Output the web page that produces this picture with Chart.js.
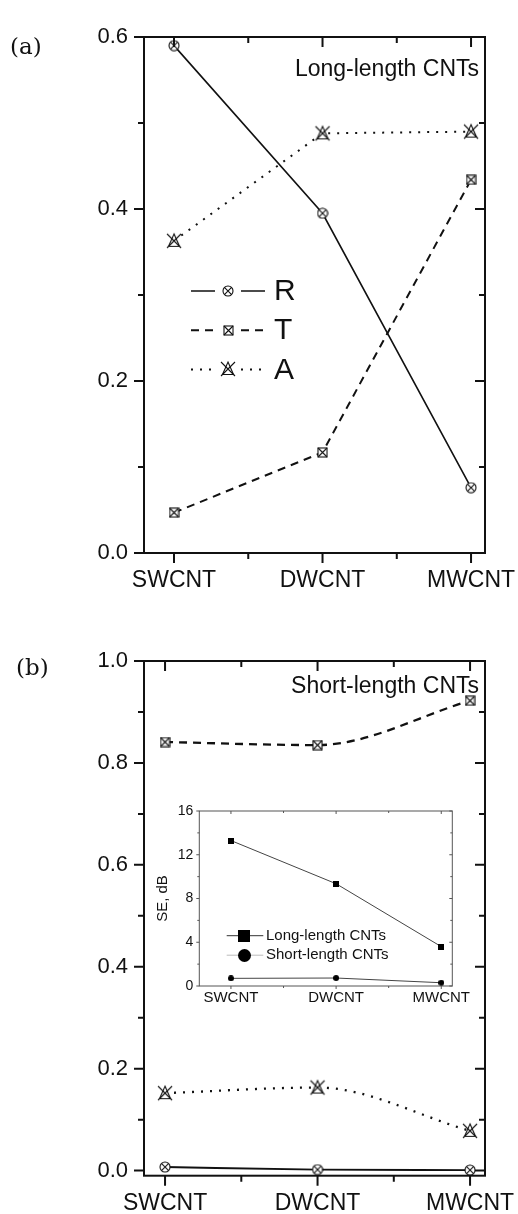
<!DOCTYPE html>
<html>
<head>
<meta charset="utf-8">
<script src="https://cdn.jsdelivr.net/npm/chart.js@4.4.1/dist/chart.umd.min.js"></script>
<style>
  html,body{margin:0;padding:0;background:#fff;overflow:hidden;}
  #wrap{position:relative;width:518px;height:1214px;overflow:hidden;background:#fff;}
  canvas{position:absolute;}
  .txt{position:absolute;white-space:nowrap;line-height:1;color:#111;}
  .sans{font-family:"Liberation Sans",Arial,sans-serif;}
  .serif{font-family:"DejaVu Serif","Liberation Serif",serif;}
</style>
</head>
<body>
<div id="wrap">
  <canvas id="ca" width="580" height="600" style="left:0;top:0"></canvas>
  <canvas id="cb" width="580" height="614" style="left:0;top:600px"></canvas>
  <canvas id="ci" width="360" height="225" style="left:140px;top:790px"></canvas>
  <div class="txt serif" style="left:10px;top:35px;font-size:23px">(a)</div>
  <div class="txt serif" style="left:16px;top:656px;font-size:23px">(b)</div>
  <div class="txt sans" style="right:39px;top:57px;font-size:23px">Long-length CNTs</div>
  <div class="txt sans" style="right:39px;top:674px;font-size:23px">Short-length CNTs</div>
</div>
<script>
// ---------------- data ----------------
const categories = ['SWCNT', 'DWCNT', 'MWCNT'];
const seriesNames = ['R', 'T', 'A'];
// (a) Long-length CNTs
const longR = [0.590, 0.395, 0.076];
const longT = [0.047, 0.117, 0.434];
const longA = [0.363, 0.488, 0.490];
// (b) Short-length CNTs
const shortR = [0.007, 0.002, 0.001];
const shortT = [0.841, 0.835, 0.922];
const shortA = [0.152, 0.163, 0.078];
// inset: shielding effectiveness, dB
const seLong = [13.3, 9.35, 3.6];
const seShort = [0.7, 0.73, 0.3];
const insetNames = ['Long-length CNTs', 'Short-length CNTs'];
// tick labels
const ticksA = [0, 0.2, 0.4, 0.6];
const ticksB = [0, 0.2, 0.4, 0.6, 0.8, 1.0];
const ticksSE = [0, 4, 8, 12, 16];
const catTicks = [0, 1, 2];

// ---------------- helpers ----------------
const FONT = '"Liberation Sans", Arial, sans-serif';
function pts(arr){ return arr.map((v,i)=>({x:i, y:v})); }

function marker(type, w){
  const c = document.createElement('canvas'); c.width = w; c.height = w;
  const g = c.getContext('2d'); const m = w/2;
  g.strokeStyle = '#111'; g.lineWidth = 1.1; g.fillStyle = '#fff';
  if (type === 'cx'){
    const r = w/2 - 1; g.beginPath(); g.arc(m, m, r, 0, 2*Math.PI); g.fill(); g.stroke();
    const d = r*0.72; g.beginPath(); g.moveTo(m-d,m-d); g.lineTo(m+d,m+d); g.moveTo(m+d,m-d); g.lineTo(m-d,m+d); g.stroke();
  } else if (type === 'sx'){
    const a = 1, b = w-1; g.fillRect(a,a,b-a,b-a); g.strokeRect(a,a,b-a,b-a);
    g.beginPath(); g.moveTo(a,a); g.lineTo(b,b); g.moveTo(b,a); g.lineTo(a,b); g.stroke();
  } else if (type === 'tx'){
    g.beginPath(); g.moveTo(m, 2); g.lineTo(w-3.5, w-3.5); g.lineTo(3.5, w-3.5); g.closePath(); g.fill(); g.stroke();
    g.beginPath(); g.moveTo(2,2); g.lineTo(w-2,w-2); g.moveTo(w-2,2); g.lineTo(2,w-2); g.stroke();
  } else if (type === 'fs'){
    g.fillStyle = '#000'; g.fillRect(0,0,w,w);
  } else if (type === 'fc'){
    g.fillStyle = '#000'; g.beginPath(); g.arc(m,m,w/2,0,2*Math.PI); g.fill();
  }
  return c;
}
const mR = marker('cx', 12), mT = marker('sx', 11), mA = marker('tx', 18);
const mLong = marker('fs', 6), mShort = marker('fc', 6);
const mLongBig = marker('fs', 12), mShortBig = marker('fc', 13);

// frame + ticks plugin (all four sides, with minor ticks)
const framePlugin = {
  id: 'frame',
  afterDraw(chart, args, o){
    const {ctx, chartArea:a} = chart; const x = chart.scales.x, y = chart.scales.y;
    const xt = x.ticks.map(t=>t.value), yt = y.ticks.map(t=>t.value);
    const xm = [], ym = [];
    for (let i=0;i<xt.length-1;i++) xm.push((xt[i]+xt[i+1])/2);
    for (let i=0;i<yt.length-1;i++) ym.push((yt[i]+yt[i+1])/2);
    ctx.save();
    ctx.strokeStyle = o.color; ctx.lineWidth = o.lw; ctx.setLineDash([]);
    ctx.strokeRect(a.left, a.top, a.right-a.left, a.bottom-a.top);
    ctx.beginPath();
    const X = (v,len)=>{ const p = x.getPixelForValue(v);
      ctx.moveTo(p, a.bottom); ctx.lineTo(p, a.bottom + len);
      ctx.moveTo(p, a.top); ctx.lineTo(p, a.top + len); };
    const Y = (v,len)=>{ const p = y.getPixelForValue(v);
      ctx.moveTo(a.left, p); ctx.lineTo(a.left - len, p);
      ctx.moveTo(a.right, p); ctx.lineTo(a.right - len, p); };
    xt.forEach(v=>X(v,o.maj)); xm.forEach(v=>X(v,o.min));
    yt.forEach(v=>Y(v,o.maj)); ym.forEach(v=>Y(v,o.min));
    ctx.stroke(); ctx.restore();
  }
};

// custom legend plugin (line - marker - line  label)
const legendPlugin = {
  id: 'legrow',
  afterDatasetsDraw(chart, args, o){
    if (!o || !o.rows) return;
    const ctx = chart.ctx;
    chart.data.datasets.forEach((ds, i)=>{
      const y = o.y0 + i*o.dy;
      ctx.save();
      ctx.strokeStyle = o.lineColors ? o.lineColors[i] : ds.borderColor;
      ctx.lineWidth = o.lw || ds.borderWidth; ctx.setLineDash(ds.borderDash || []);
      ctx.beginPath();
      if (o.gap){
        ctx.moveTo(o.x0, y); ctx.lineTo(o.xm - o.gap, y);
        ctx.moveTo(o.xm + o.gap, y); ctx.lineTo(o.x1, y);
      } else { ctx.moveTo(o.x0, y); ctx.lineTo(o.x1, y); }
      ctx.stroke(); ctx.setLineDash([]);
      const img = o.markers[i];
      ctx.drawImage(img, Math.round(o.xm - img.width/2), Math.round(y - img.height/2));
      ctx.fillStyle = '#111'; ctx.font = o.font; ctx.textBaseline = 'middle'; ctx.textAlign = 'left';
      ctx.fillText(ds.label, o.xt, y + (o.ty || 0));
      ctx.restore();
    });
  }
};

function xScale(min, max, fontSize, pad, h){
  return {
    type: 'linear', min, max, position: 'bottom',
    afterBuildTicks: s => { s.ticks = catTicks.map(v=>({value:v})); },
    afterFit: s => { s.height = h; },
    grid: {display:false, drawTicks:false}, border: {display:false},
    ticks: {autoSkip:false, maxRotation:0, padding: pad, color:'#111',
      font:{family:FONT, size:fontSize}, callback: v => categories[v] ?? ''}
  };
}
function yScale(min, max, tickVals, fontSize, pad, w, dec){
  return {
    type: 'linear', min, max, position: 'left',
    afterBuildTicks: s => { s.ticks = tickVals.map(v=>({value:v})); },
    afterFit: s => { s.width = w; },
    grid: {display:false, drawTicks:false}, border: {display:false},
    ticks: {padding: pad, color:'#111', font:{family:FONT, size:fontSize},
      callback: v => dec ? Number(v).toFixed(dec) : String(v)}
  };
}
function mainSets(R, T, A, w){
  return [
    {label: seriesNames[0], data: pts(R), borderColor:'#111', borderWidth: w*0.8, pointStyle: mR, pointRadius: 6, clip:false},
    {label: seriesNames[1], data: pts(T), borderColor:'#111', borderWidth: w, borderDash:[8,6], pointStyle: mT, pointRadius: 6, clip:false},
    {label: seriesNames[2], data: pts(A), borderColor:'#111', borderWidth: w, borderDash:[2,7], pointStyle: mA, pointRadius: 9, clip:false}
  ];
}
const baseOpts = {
  responsive: false, animation: false, devicePixelRatio: 1
};

// ---------------- (a) ----------------
new Chart(document.getElementById('ca'), {
  type: 'line',
  data: {datasets: mainSets(longR, longT, longA, 2)},
  options: Object.assign({}, baseOpts, {
    layout: {padding: {left:0, top:37, right:95, bottom:0}},
    elements: {line:{tension:0, fill:false}},
    scales: {
      x: xScale(-0.202, 2.094, 23, 14, 47),
      y: yScale(0, 0.6, ticksA, 22, 16, 144, 1)
    },
    plugins: {legend:{display:false}, tooltip:{enabled:false},
      frame: {color:'#111', lw:2, maj:10, min:6},
      legrow: {rows:true, x0:191, x1:265, xm:228, gap:13, xt:274, ty:1, y0:291, dy:39.2,
        font:'30px ' + FONT, markers:[mR, mT, mA]}
    }
  }),
  plugins: [framePlugin, legendPlugin]
});

// ---------------- (b) ----------------
new Chart(document.getElementById('cb'), {
  type: 'line',
  data: {datasets: mainSets(shortR, shortT, shortA, 2.3)},
  options: Object.assign({}, baseOpts, {
    layout: {padding: {left:0, top:61, right:95, bottom:0}},
    elements: {line:{cubicInterpolationMode:'monotone', fill:false}},
    scales: {
      x: xScale(-0.138, 2.098, 23, 14, 38.3),
      y: yScale(-0.01, 1.0, ticksB, 22, 16, 144, 1)
    },
    plugins: {legend:{display:false}, tooltip:{enabled:false},
      frame: {color:'#111', lw:2, maj:10, min:6}
    }
  }),
  plugins: [framePlugin]
});

// ---------------- inset ----------------
new Chart(document.getElementById('ci'), {
  type: 'line',
  data: {datasets: [
    {label: insetNames[0], data: pts(seLong), borderColor:'#444', borderWidth:1, pointStyle: mLong, pointRadius:3, clip:false},
    {label: insetNames[1], data: pts(seShort), borderColor:'#444', borderWidth:1, pointStyle: mShort, pointRadius:3, clip:false}
  ]},
  options: Object.assign({}, baseOpts, {
    layout: {padding: {left:0, top:21, right:47.7, bottom:0}},
    elements: {line:{tension:0, fill:false}},
    scales: {
      x: xScale(-0.301, 2.105, 15, 3, 29),
      y: Object.assign(yScale(0, 16, ticksSE, 14, 6, 59.3, 0), {
        title: {display:true, text:'SE, dB', color:'#111', font:{family:FONT, size:15}, padding:{top:14, bottom:0}}
      })
    },
    plugins: {legend:{display:false}, tooltip:{enabled:false},
      frame: {color:'#555', lw:1, maj:3, min:2},
      legrow: {rows:true, x0:86.7, x1:123.3, xm:104, gap:0, xt:126, ty:0, y0:145.7, dy:19.5, lw:1,
        lineColors:['#333','#bbb'], font:'15px ' + FONT, markers:[mLongBig, mShortBig]}
    }
  }),
  plugins: [framePlugin, legendPlugin]
});
</script>
</body>
</html>
